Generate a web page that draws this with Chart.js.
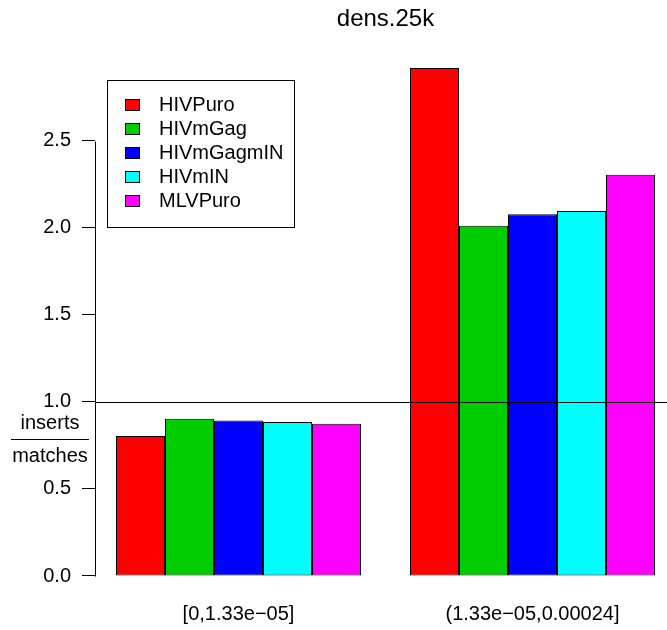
<!DOCTYPE html>
<html><head><meta charset="utf-8">
<script src="https://cdn.jsdelivr.net/npm/chart.js@4/dist/chart.umd.min.js"></script>
<style>html,body{margin:0;padding:0;background:#fff;overflow:hidden}canvas{display:block}</style>
</head><body>
<canvas id="c" width="667" height="630"></canvas>
<script>
const chartTitle = 'dens.25k';
const categories = ['[0,1.33e\u221205]', '(1.33e\u221205,0.00024]'];
const seriesNames = ['HIVPuro', 'HIVmGag', 'HIVmGagmIN', 'HIVmIN', 'MLVPuro'];
const seriesColors = ['#FF0000', '#00CD00', '#0000FF', '#00FFFF', '#FF00FF'];
const HIVPuro = [0.805, 2.920];
const HIVmGag = [0.903, 2.013];
const HIVmGagmIN = [0.894, 2.079];
const HIVmIN = [0.885, 2.098];
const MLVPuro = [0.875, 2.306];
const yTicks = [0, 0.5, 1.0, 1.5, 2.0, 2.5];
const refLine = 1.0;
const yLabelTop = 'inserts';
const yLabelBottom = 'matches';

const FONT = '"Liberation Sans", Arial, Helvetica, sans-serif';
const seriesValues = [HIVPuro, HIVmGag, HIVmGagmIN, HIVmIN, MLVPuro];

const decor = {
  id: 'decor',
  afterDatasetsDraw(chart) {
    const { ctx, chartArea: ca, scales: { x, y } } = chart;
    ctx.save();
    ctx.strokeStyle = '#000';
    ctx.lineWidth = 1;
    // reference line
    const yr = Math.round(y.getPixelForValue(refLine)) + 0.5;
    ctx.beginPath();
    ctx.moveTo(ca.left, yr);
    ctx.lineTo(ca.right, yr);
    ctx.stroke();
    // y axis line from first to last tick
    const ax = ca.left + 0.5;
    ctx.beginPath();
    ctx.moveTo(ax, Math.round(y.getPixelForValue(yTicks[0])) + 0.5);
    ctx.lineTo(ax, Math.round(y.getPixelForValue(yTicks[yTicks.length - 1])) + 0.5);
    ctx.stroke();
    ctx.restore();
  },
  afterDraw(chart) {
    const { ctx, chartArea: ca, scales: { x, y } } = chart;
    ctx.save();
    ctx.fillStyle = '#000';
    ctx.strokeStyle = '#000';
    ctx.lineWidth = 1;
    // title
    ctx.font = '24px ' + FONT;
    ctx.textAlign = 'center';
    ctx.textBaseline = 'alphabetic';
    ctx.fillText(chartTitle, x.getPixelForValue(0.5), 26);
    // y label as fraction
    ctx.font = '20px ' + FONT;
    const lx = 50;
    ctx.fillText(yLabelTop, lx, 428.5);
    ctx.fillText(yLabelBottom, lx, 461.5);
    ctx.beginPath();
    ctx.moveTo(11, 439.5);
    ctx.lineTo(89, 439.5);
    ctx.stroke();
    // legend
    const bx = 107, by = 80, bw = 187, bh = 147;
    ctx.strokeRect(bx + 0.5, by + 0.5, bw, bh);
    ctx.textAlign = 'left';
    ctx.textBaseline = 'middle';
    chart.data.datasets.forEach((ds, i) => {
      const cy = Math.round(104.8 + i * 24.1);
      ctx.fillStyle = ds.backgroundColor;
      ctx.fillRect(125, cy - 6, 15, 12);
      ctx.strokeRect(125.5, cy - 5.5, 14, 11);
      ctx.fillStyle = '#000';
      ctx.fillText(ds.label, 159, cy);
    });
    ctx.restore();
  }
};

const datasets = seriesNames.map((name, i) => ({
  label: name,
  data: seriesValues[i].map((v, j) => ({ x: j, y: v })),
  backgroundColor: seriesColors[i],
  borderColor: '#000',
  borderWidth: 1,
  borderSkipped: false,
  categoryPercentage: 5 / 6,
  barPercentage: 1
}));

new Chart(document.getElementById('c'), {
  type: 'bar',
  data: { datasets },
  options: {
    responsive: false,
    animation: false,
    devicePixelRatio: 1,
    layout: { padding: { top: 47, left: 0, right: 0, bottom: 0 } },
    plugins: { legend: { display: false }, title: { display: false }, tooltip: { enabled: false } },
    scales: {
      x: {
        type: 'linear', min: -0.4881, max: 1.4575, offset: false,
        grid: { display: false, drawTicks: false, offset: false },
        border: { display: false },
        afterBuildTicks: s => { s.ticks = categories.map((_, i) => ({ value: i })); },
        afterFit: s => { s.height = 34; },
        ticks: {
          autoSkip: false, maxRotation: 0, minRotation: 0, color: '#000',
          font: { family: FONT, size: 20 }, padding: 6,
          callback: v => (categories[v] !== undefined ? categories[v] : '')
        }
      },
      y: {
        min: -0.115, max: 3.04,
        grid: { drawOnChartArea: false, drawTicks: true, tickLength: 13, color: '#000', lineWidth: 1 },
        border: { display: false },
        afterBuildTicks: s => { s.ticks = yTicks.map(v => ({ value: v })); },
        afterFit: s => { s.width = 95; },
        ticks: {
          color: '#000', font: { family: FONT, size: 20 }, padding: 11,
          callback: v => Number(v).toFixed(1)
        }
      }
    }
  },
  plugins: [decor]
});
</script>
</body></html>
